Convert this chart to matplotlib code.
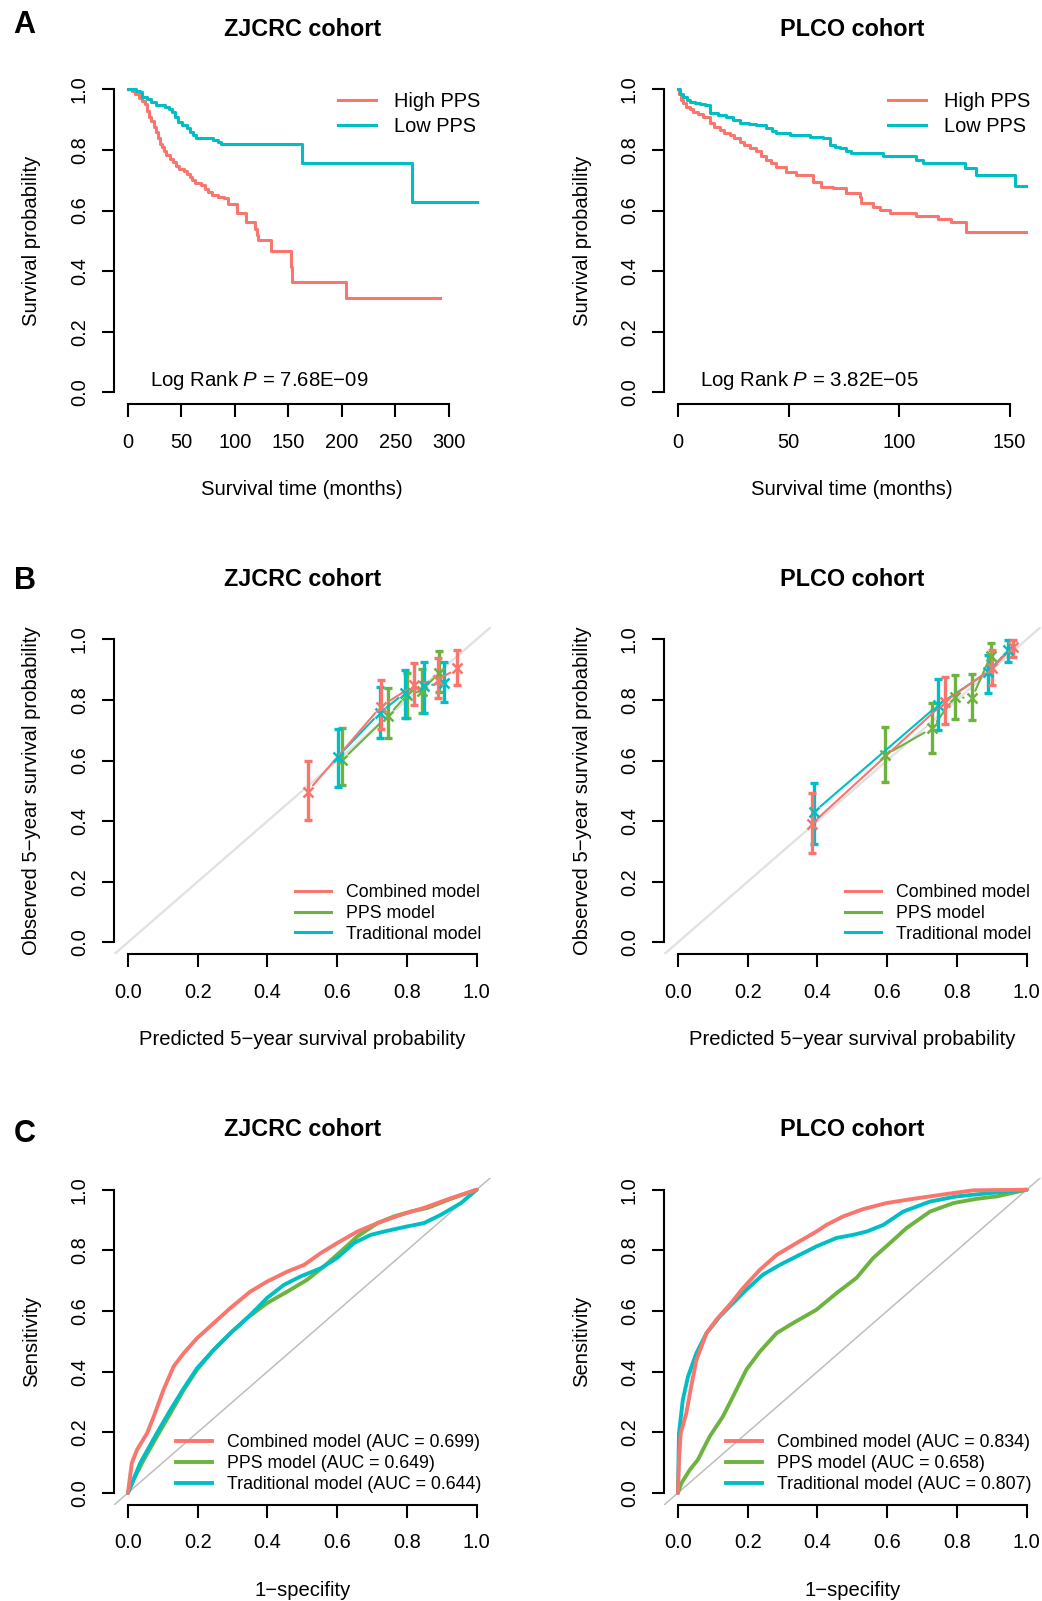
import numpy as np
import matplotlib
matplotlib.use('Agg')
import matplotlib.pyplot as plt

plt.rcParams['font.family'] = ['Liberation Sans', 'DejaVu Sans']
plt.rcParams['mathtext.fontset'] = 'custom'
plt.rcParams['mathtext.rm'] = 'Liberation Sans'
plt.rcParams['mathtext.it'] = 'Liberation Sans:italic'

RED, GREEN, CYAN = '#F8766D', '#6DB33F', '#00BFC4'

# ---- A: Kaplan-Meier curves (months, survival) ----
zj_high_t = [0, 4, 7, 10, 13, 16, 18, 20, 22, 24, 26, 28, 30, 32, 34, 36, 39, 42, 45, 48,
             52, 55, 58, 60, 63, 68, 72, 75, 79, 84, 90, 94, 102, 110, 119, 121, 122, 134,
             152, 153, 204, 292]
zj_high_s = [1.0, 0.995, 0.985, 0.97, 0.962, 0.95, 0.93, 0.91, 0.895, 0.875, 0.86, 0.84,
             0.82, 0.81, 0.795, 0.783, 0.77, 0.76, 0.748, 0.738, 0.73, 0.722, 0.71, 0.70,
             0.69, 0.685, 0.672, 0.66, 0.65, 0.645, 0.64, 0.62, 0.592, 0.563, 0.54, 0.52,
             0.503, 0.466, 0.415, 0.364, 0.31, 0.31]
zj_low_t = [0, 8, 11, 13, 18, 22, 26, 35, 38, 41, 44, 47, 51, 55, 58, 61, 64, 80, 84, 87,
            163, 266, 326]
zj_low_s = [1.0, 0.995, 0.99, 0.976, 0.968, 0.958, 0.948, 0.943, 0.935, 0.926, 0.91, 0.893,
            0.882, 0.871, 0.86, 0.849, 0.838, 0.833, 0.826, 0.819, 0.756, 0.629, 0.629]

plco_high_t = [0, 0.5, 1.5, 2.5, 3.8, 5.5, 6.8, 9, 11.3, 14.3, 16.5, 18.9, 21, 23.4, 25.5,
               27.9, 30, 32.4, 35.4, 37.5, 40, 42, 44.5, 49, 53.5, 59.6, 61, 64.8, 70.1,
               76.1, 82.2, 82.9, 88.2, 91.2, 95.7, 107.8, 117.6, 123.6, 130.4, 157.6]
plco_high_s = [1.0, 0.985, 0.965, 0.955, 0.943, 0.935, 0.926, 0.918, 0.91, 0.888, 0.877,
               0.866, 0.857, 0.849, 0.838, 0.827, 0.815, 0.805, 0.795, 0.78, 0.767, 0.756,
               0.745, 0.728, 0.717, 0.717, 0.695, 0.679, 0.673, 0.657, 0.646, 0.624, 0.613,
               0.602, 0.591, 0.582, 0.572, 0.561, 0.53, 0.53]
plco_low_t = [0, 1, 2.3, 4, 5.5, 7.5, 10, 12.1, 14.3, 18, 21.9, 25, 27.9, 32, 35.4, 40,
              42.5, 44.5, 50.5, 59.6, 65.6, 68.6, 71, 73.1, 76, 78.4, 92.7, 107.8, 110.8,
              129.7, 134.9, 152.3, 157.6]
plco_low_s = [1.0, 0.985, 0.976, 0.965, 0.958, 0.954, 0.95, 0.948, 0.921, 0.915, 0.91, 0.9,
              0.89, 0.886, 0.882, 0.871, 0.864, 0.857, 0.849, 0.844, 0.838, 0.816, 0.81,
              0.805, 0.797, 0.789, 0.78, 0.767, 0.756, 0.739, 0.717, 0.681, 0.681]

# ---- B: calibration (predicted, observed, lower, upper) ----
zj_cal = {
    'Combined model': ([0.515, 0.725, 0.821, 0.888, 0.945], [0.497, 0.778, 0.849, 0.866, 0.904],
                       [0.404, 0.705, 0.783, 0.805, 0.849], [0.597, 0.867, 0.921, 0.937, 0.965]),
    'PPS model': ([0.615, 0.746, 0.800, 0.842, 0.893], [0.602, 0.748, 0.816, 0.83, 0.89],
                  [0.519, 0.673, 0.739, 0.758, 0.827], [0.708, 0.838, 0.89, 0.901, 0.962]),
    'Traditional model': ([0.602, 0.722, 0.795, 0.849, 0.907], [0.613, 0.757, 0.824, 0.845, 0.857],
                          [0.512, 0.673, 0.739, 0.756, 0.794], [0.703, 0.843, 0.899, 0.926, 0.926]),
}
plco_cal = {
    'Combined model': ([0.383, 0.766, 0.900, 0.962], [0.39, 0.794, 0.904, 0.976],
                       [0.294, 0.72, 0.849, 0.943], [0.492, 0.877, 0.965, 0.998]),
    'PPS model': ([0.594, 0.728, 0.794, 0.843, 0.897], [0.618, 0.706, 0.81, 0.805, 0.946],
                  [0.53, 0.624, 0.737, 0.734, 0.899], [0.71, 0.791, 0.882, 0.884, 0.989]),
    'Traditional model': ([0.39, 0.746, 0.89, 0.947], [0.43, 0.783, 0.893, 0.964],
                          [0.324, 0.70, 0.824, 0.926], [0.527, 0.868, 0.948, 0.997]),
}

# ---- C: ROC curves (1-specificity, sensitivity) ----
zj_roc = {
    'Combined model (AUC = 0.699)': (
        [0, 0.011, 0.026, 0.055, 0.074, 0.102, 0.131, 0.16, 0.198, 0.246, 0.294, 0.351, 0.399,
         0.457, 0.505, 0.553, 0.6, 0.658, 0.716, 0.782, 0.849, 0.926, 1.0],
        [0, 0.098, 0.142, 0.197, 0.252, 0.34, 0.417, 0.461, 0.51, 0.56, 0.61, 0.664, 0.697,
         0.73, 0.752, 0.791, 0.824, 0.862, 0.89, 0.917, 0.94, 0.972, 1.0]),
    'PPS model (AUC = 0.649)': (
        [0, 0.016, 0.045, 0.083, 0.122, 0.16, 0.198, 0.246, 0.294, 0.342, 0.399, 0.457, 0.514,
         0.562, 0.61, 0.658, 0.716, 0.763, 0.811, 0.859, 0.926, 1.0],
        [0, 0.043, 0.109, 0.186, 0.263, 0.34, 0.406, 0.472, 0.527, 0.577, 0.626, 0.664, 0.703,
         0.747, 0.796, 0.846, 0.89, 0.912, 0.928, 0.94, 0.97, 1.0]),
    'Traditional model (AUC = 0.644)': (
        [0, 0.035, 0.083, 0.122, 0.16, 0.198, 0.246, 0.294, 0.342, 0.371, 0.399, 0.447, 0.495,
         0.553, 0.6, 0.648, 0.696, 0.734, 0.801, 0.849, 0.897, 0.955, 1.0],
        [0, 0.098, 0.197, 0.274, 0.345, 0.411, 0.472, 0.527, 0.577, 0.61, 0.643, 0.686, 0.714,
         0.741, 0.775, 0.824, 0.851, 0.862, 0.879, 0.89, 0.917, 0.956, 1.0]),
}
plco_roc = {
    'Combined model (AUC = 0.834)': (
        [0, 0.003, 0.008, 0.024, 0.038, 0.053, 0.082, 0.11, 0.148, 0.187, 0.235, 0.283, 0.34,
         0.397, 0.426, 0.474, 0.531, 0.598, 0.675, 0.771, 0.847, 1.0],
        [0, 0.109, 0.197, 0.263, 0.351, 0.439, 0.527, 0.571, 0.62, 0.676, 0.736, 0.785, 0.824,
         0.862, 0.884, 0.912, 0.936, 0.956, 0.97, 0.986, 0.998, 1.0]),
    'PPS model (AUC = 0.658)': (
        [0, 0.01, 0.034, 0.057, 0.091, 0.129, 0.158, 0.196, 0.235, 0.283, 0.33, 0.397, 0.455,
         0.512, 0.56, 0.608, 0.656, 0.723, 0.79, 0.857, 0.914, 1.0],
        [0, 0.032, 0.076, 0.109, 0.186, 0.252, 0.318, 0.406, 0.466, 0.527, 0.56, 0.604, 0.659,
         0.709, 0.775, 0.824, 0.874, 0.928, 0.956, 0.97, 0.978, 1.0]),
    'Traditional model (AUC = 0.807)': (
        [0, 0.003, 0.014, 0.029, 0.053, 0.082, 0.12, 0.158, 0.196, 0.244, 0.292, 0.34, 0.397,
         0.455, 0.502, 0.541, 0.589, 0.646, 0.723, 0.799, 0.895, 1.0],
        [0, 0.197, 0.307, 0.384, 0.461, 0.527, 0.582, 0.626, 0.67, 0.72, 0.752, 0.78, 0.813,
         0.841, 0.851, 0.862, 0.884, 0.928, 0.961, 0.978, 0.989, 1.0]),
}

W, H = 1042, 1601
AX_W = 376.6
fig = plt.figure(figsize=(W / 100, H / 100), dpi=100)

cols = [114, 664]
rows = [(77.2, 404.4), (627.2, 954.4), (1177.6, 1505.0)]


def make_axes(col, row):
    top, bot = rows[row]
    return fig.add_axes([cols[col] / W, 1 - bot / H, AX_W / W, (bot - top) / H])


def style(ax, xlim, xticks, xticklabels):
    ax.set_xlim(xlim)
    ax.set_ylim(-0.04, 1.04)
    ax.patch.set_visible(False)
    for s in ['top', 'right']:
        ax.spines[s].set_visible(False)
    ax.spines['left'].set_bounds(0, 1)
    ax.spines['bottom'].set_bounds(xticks[0], xticks[-1])
    for s in ['left', 'bottom']:
        ax.spines[s].set_linewidth(1.5)
    ax.set_xticks(xticks)
    ax.set_xticklabels(xticklabels)
    yt = [0, 0.2, 0.4, 0.6, 0.8, 1.0]
    ax.set_yticks(yt)
    ax.set_yticklabels(['%.1f' % v for v in yt], rotation=90, va='center')
    ax.tick_params(direction='out', length=9, width=1.5, labelsize=14.4)
    ax.tick_params(axis='x', pad=11.5)
    ax.tick_params(axis='y', pad=9)


def labels(ax, title, xlabel, ylabel):
    h = ax.bbox.height
    ax.text(0.5, 1 + 41.2 / h, title, transform=ax.transAxes, ha='center', va='baseline',
            fontsize=16.8, fontweight='bold')
    ax.text(0.5, -85.5 / h, xlabel, transform=ax.transAxes, ha='center', va='center',
            fontsize=14.6)
    ax.text(-82 / AX_W, 0.5, ylabel, transform=ax.transAxes, ha='center', va='center',
            rotation=90, fontsize=14.6)


def small_legend(ax, handles, labs, last_row):
    h = ax.bbox.height
    ax.legend(handles, labs, loc='lower right', bbox_to_anchor=(1 - 9.5 / AX_W, (last_row - 9.5) / h),
              frameon=False, fontsize=12.75, handlelength=2.0, handletextpad=0.85,
              labelspacing=0.22, borderpad=0, borderaxespad=0)


# ---- Row A ----
km = [(zj_high_t, zj_high_s, zj_low_t, zj_low_s, 'ZJCRC cohort', 'Log Rank $P$ = 7.68E\u221209',
       (-13.0, 339.0), [0, 50, 100, 150, 200, 250, 300]),
      (plco_high_t, plco_high_s, plco_low_t, plco_low_s, 'PLCO cohort', 'Log Rank $P$ = 3.82E\u221205',
       (-6.3, 164.0), [0, 50, 100, 150])]
for c, (ht, hs, lt, ls_, title, ptxt, xlim, xt) in enumerate(km):
    ax = make_axes(c, 0)
    ax.plot(ht, hs, drawstyle='steps-post', color=RED, lw=2.2, label='High PPS')
    ax.plot(lt, ls_, drawstyle='steps-post', color=CYAN, lw=2.2, label='Low PPS')
    style(ax, xlim, xt, [str(v) for v in xt])
    labels(ax, title, 'Survival time (months)', 'Survival probability')
    h = ax.bbox.height
    ax.legend(loc='upper right', bbox_to_anchor=(1 - 10 / AX_W, 1 - 15 / h), frameon=False,
              fontsize=14.4, handlelength=1.9, handletextpad=0.9, labelspacing=0.28,
              borderpad=0, borderaxespad=0)
    ax.text(36 / AX_W, 18.4 / h, ptxt, transform=ax.transAxes, ha='left', va='baseline',
            fontsize=14.7)

# ---- Row B ----
colors = {'Combined model': RED, 'PPS model': GREEN, 'Traditional model': CYAN}
pt = [0, 0.2, 0.4, 0.6, 0.8, 1.0]
for c, (cal, title) in enumerate([(zj_cal, 'ZJCRC cohort'), (plco_cal, 'PLCO cohort')]):
    ax = make_axes(c, 1)
    ax.axline((0, 0), (1, 1), color='#E2E2E2', lw=1.7, zorder=1)
    for name in ['PPS model', 'Traditional model', 'Combined model']:
        p, o, lo, hi = [np.array(v) for v in cal[name]]
        col = colors[name]
        ax.errorbar(p, o, yerr=[o - lo, hi - o], fmt='none', ecolor=col, elinewidth=2.4,
                    capsize=3, capthick=2.4, zorder=3)
        for i in range(len(p) - 1):
            ax.annotate('', xy=(p[i + 1], o[i + 1]), xytext=(p[i], o[i]),
                        arrowprops=dict(arrowstyle='-', color=col, lw=1.5, shrinkA=6, shrinkB=6),
                        zorder=3)
        ax.plot(p, o, ls='none', marker='x', ms=7, mew=1.8, color=col, zorder=4)
    style(ax, (-0.04, 1.04), pt, ['%.1f' % v for v in pt])
    labels(ax, title, 'Predicted 5\u2212year survival probability',
           'Observed 5\u2212year survival probability')
    names = ['Combined model', 'PPS model', 'Traditional model']
    hs = [plt.Line2D([], [], color=colors[n], lw=2.2) for n in names]
    small_legend(ax, hs, names, 21.3)

# ---- Row C ----
for c, (roc, title) in enumerate([(zj_roc, 'ZJCRC cohort'), (plco_roc, 'PLCO cohort')]):
    ax = make_axes(c, 2)
    ax.axline((0, 0), (1, 1), color='#BEBEBE', lw=1.1, zorder=1)
    names = list(roc.keys())
    cols_ = [RED, GREEN, CYAN]
    for i in [1, 2, 0]:
        x, y = roc[names[i]]
        ax.plot(x, y, color=cols_[i], lw=2.8, solid_joinstyle='round', solid_capstyle='round')
    style(ax, (-0.04, 1.04), pt, ['%.1f' % v for v in pt])
    labels(ax, title, '1\u2212specifity', 'Sensitivity')
    hs = [plt.Line2D([], [], color=cc, lw=2.8) for cc in cols_]
    small_legend(ax, hs, names, 21.7)

# panel letters
for letter, base in [('A', 33.3), ('B', 589.3), ('C', 1141.5)]:
    fig.text(13.5 / W, 1 - base / H, letter, ha='left', va='baseline', fontsize=22,
             fontweight='bold')

fig.savefig('out.png', dpi=100)
